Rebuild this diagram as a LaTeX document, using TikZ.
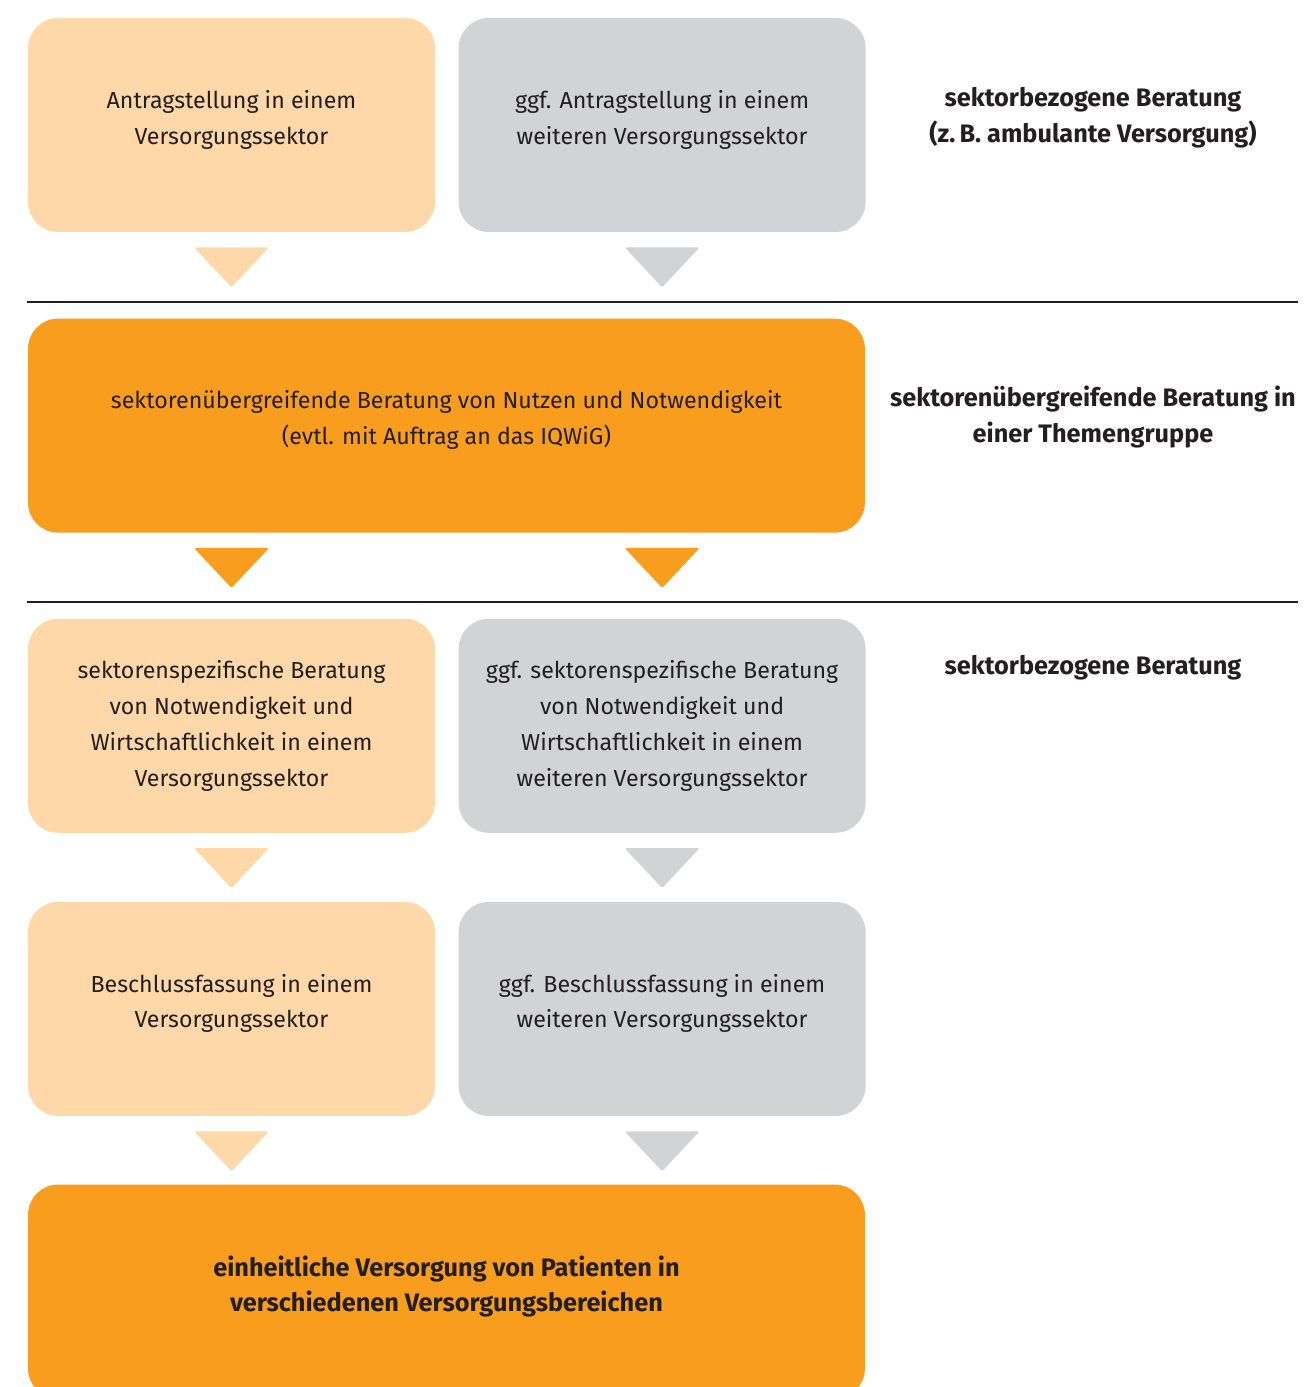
\documentclass[tikz,border=0pt]{standalone}
\usepackage{fontspec}
\setmainfont{Fira Sans}
\usetikzlibrary{positioning}
\definecolor{paleorange}{HTML}{FED8A9}
\definecolor{palegray}{HTML}{D1D3D4}
\definecolor{deeporange}{HTML}{F89D1E}
\definecolor{inkdark}{HTML}{231F20}
\tikzstyle{box} = [rectangle, rounded corners=0.6cm, minimum width=8.14cm, minimum height=4.28cm, inner sep=0pt, text centered, align=center, text=inkdark, font=\fontsize{13.2}{20.4}\selectfont]
\tikzstyle{sektor} = [box, fill=paleorange]
\tikzstyle{weiter} = [box, fill=palegray]
\tikzstyle{gemeinsam} = [box, fill=deeporange, minimum width=16.74cm]
\tikzstyle{ebene} = [align=center, text=inkdark, font=\fontsize{14.4}{20.4}\selectfont\bfseries]
\tikzstyle{trenner} = [draw=inkdark, line width=1.1pt]
\newcommand{\pfeil}[2]{\fill[#1, rounded corners=1.2pt] ([yshift=-0.3cm, xshift=-0.75cm]#2) -- ++(1.5cm,0) -- ++(-0.75cm,-0.8cm) -- cycle;}

\begin{document}
\begin{tikzpicture}[x=0.02cm, y=-0.02cm]
  \useasboundingbox (0,0) rectangle (1304,1387);
  \begin{scope}
  \clip (0,0) rectangle (1304,1387);
  % erste Ebene
  \node[sektor](antrag) at (231.5,125) {Antragstellung in einem\\Versorgungssektor\\[-0.4cm]};
  \node[weiter, right=0.46cm of antrag](antragw) {ggf. Antragstellung in einem\\weiteren Versorgungssektor\\[-0.4cm]};
  \pfeil{paleorange}{antrag.south}
  \pfeil{palegray}{antragw.south}
  % zweite Ebene
  \node[gemeinsam, below=1.72cm of antrag.south west, anchor=north west](nutzen) {sektorenübergreifende Beratung von Nutzen und Notwendigkeit\\(evtl. mit Auftrag an das IQWiG)\\[-0.4cm]};
  \pfeil{deeporange}{antrag.south |- nutzen.south}
  \pfeil{deeporange}{antragw.south |- nutzen.south}
  % dritte Ebene
  \node[sektor, below=1.71cm of nutzen.south west, anchor=north west](spez) {sektorenspezifische Beratung\\von Notwendigkeit und\\Wirtschaftlichkeit in einem\\Versorgungssektor};
  \node[weiter, right=0.46cm of spez](spezw) {ggf. sektorenspezifische Beratung\\von Notwendigkeit und\\Wirtschaftlichkeit in einem\\weiteren Versorgungssektor};
  \pfeil{paleorange}{spez.south}
  \pfeil{palegray}{spezw.south}
  \node[sektor, below=1.37cm of spez](beschl) {Beschlussfassung in einem\\Versorgungssektor\\[-0.4cm]};
  \node[weiter, right=0.46cm of beschl](beschlw) {ggf. Beschlussfassung in einem\\weiteren Versorgungssektor\\[-0.4cm]};
  \pfeil{paleorange}{beschl.south}
  \pfeil{palegray}{beschlw.south}
  \node[gemeinsam, font=\fontsize{14.4}{20.4}\selectfont\bfseries, below=1.36cm of beschl.south west, anchor=north west](einheit) {einheitliche Versorgung von Patienten in\\verschiedenen Versorgungsbereichen\\[-0.4cm]};
  \end{scope}
  % Trennlinien
  \coordinate (l1) at (27,302);
  \coordinate (r1) at (1298,302);
  \coordinate (l2) at (27,602);
  \coordinate (r2) at (1298,602);
  \draw[trenner] (l1) -- (r1);
  \draw[trenner] (l2) -- (r2);
  % Beschriftung rechts
  \node[ebene](eb1) at (1093,118) {sektorbezogene Beratung\\(z.\,B. ambulante Versorgung)};
  \node[ebene](eb2) at (1093,417) {sektorenübergreifende Beratung in\\einer Themengruppe};
  \node[ebene](eb3) at (1093,668) {sektorbezogene Beratung};
\end{tikzpicture}
\end{document}
